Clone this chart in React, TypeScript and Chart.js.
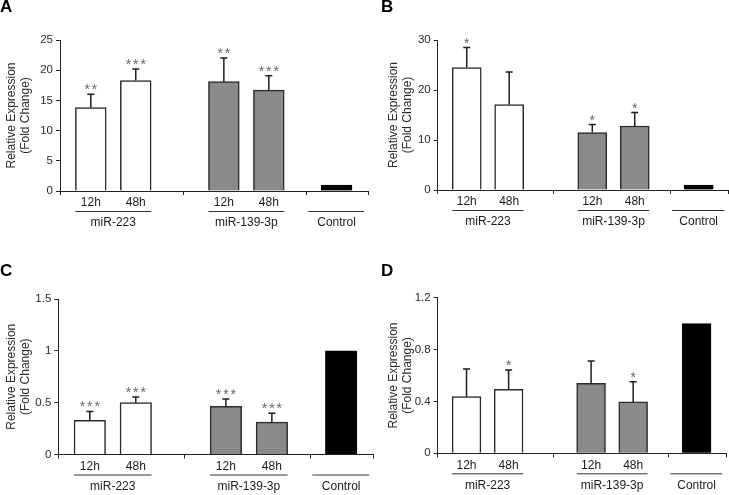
import React, { useEffect, useRef } from "react";
import { Chart, registerables } from "chart.js";

Chart.register(...registerables);

// ---------- data ----------
const timepoints = ["12h", "48h", "12h", "48h", ""];
const groupNames = ["miR-223", "miR-139-3p", "Control"];
const groupSizes = [2, 2, 1];
const yTitle = ["Relative Expression", "(Fold Change)"];

const valuesA = [13.8, 18.3, 18.1, 16.7, 1];
const errorsA = [2.2, 1.9, 3.9, 2.4, 0];
const starsA = ["**", "***", "**", "***", ""];
const yTicksA = [0, 5, 10, 15, 20, 25];

const valuesB = [24.5, 17.1, 11.5, 12.8, 1];
const errorsB = [4.0, 6.5, 1.6, 2.7, 0];
const starsB = ["*", "", "*", "*", ""];
const yTicksB = [0, 10, 20, 30];

const valuesC = [0.33, 0.5, 0.465, 0.313, 1];
const errorsC = [0.085, 0.055, 0.07, 0.085, 0];
const starsC = ["***", "***", "***", "***", ""];
const yTicksC = [0, 0.5, 1, 1.5];

const valuesD = [0.437, 0.493, 0.54, 0.396, 1];
const errorsD = [0.213, 0.149, 0.172, 0.156, 0];
const starsD = ["", "*", "", "*", ""];
const yTicksD = [0, 0.4, 0.8, 1.2];

// ---------- layout / style ----------
const BAR_X = [0.5, 1.23, 2.66, 3.39, 4.49]; // slot positions along the group axis
const GROUP_FILLS = ["#ffffff", "#8a8a8a", "#000000"];
const GROUP_BORDERS = ["#2a2a2a", "#2a2a2a", "#000000"];
const FONT = "Arial, 'Liberation Sans', sans-serif";

type Panel = {
  letter: string;
  values: number[];
  errors: number[];
  stars: string[];
  yTicks: number[];
  left: number;
  top: number;
  w: number;
  h: number;
  area: { l: number; r: number; t: number; b: number };
  titlePad: number;
  letterPos: { x: number; y: number };
};

const panels: Panel[] = [
  {
    letter: "A", values: valuesA, errors: errorsA, stars: starsA, yTicks: yTicksA,
    left: 0, top: 0, w: 374, h: 250, area: { l: 60, r: 368, t: 40, b: 191 }, titlePad: 4,
    letterPos: { x: 0, y: -2 },
  },
  {
    letter: "B", values: valuesB, errors: errorsB, stars: starsB, yTicks: yTicksB,
    left: 365, top: 0, w: 364, h: 250, area: { l: 72.7, r: 363.3, t: 40, b: 190 }, titlePad: 21,
    letterPos: { x: 381, y: -2 },
  },
  {
    letter: "C", values: valuesC, errors: errorsC, stars: starsC, yTicks: yTicksC,
    left: 0, top: 250, w: 378, h: 245, area: { l: 58.3, r: 373.3, t: 49, b: 204.5 }, titlePad: 4,
    letterPos: { x: 0, y: 262 },
  },
  {
    letter: "D", values: valuesD, errors: errorsD, stars: starsD, yTicks: yTicksD,
    left: 365, top: 250, w: 364, h: 245, area: { l: 72.7, r: 361, t: 47.7, b: 203.3 }, titlePad: 21,
    letterPos: { x: 381, y: 262 },
  },
];

function barGroupIndex(): number[] {
  const out: number[] = [];
  groupSizes.forEach((n, g) => {
    for (let i = 0; i < n; i++) out.push(g);
  });
  return out;
}

function PanelChart({ p }: { p: Panel }) {
  const ref = useRef<HTMLCanvasElement | null>(null);

  useEffect(() => {
    if (!ref.current) return;
    const gi = barGroupIndex();
    const total = groupSizes.reduce((a, b) => a + b, 0);
    const bounds: number[] = [0];
    groupSizes.forEach((n) => bounds.push(bounds[bounds.length - 1] + n));
    const unitPx = (p.area.r - p.area.l) / total;

    const annot = {
      id: "annot",
      afterDatasetsDraw(chart: any) {
        const ctx = chart.ctx;
        const y = chart.scales.y;
        const meta = chart.getDatasetMeta(0);
        ctx.save();
        meta.data.forEach((bar: any, i: number) => {
          const v = p.values[i];
          const e = p.errors[i];
          const top = y.getPixelForValue(v);
          const et = y.getPixelForValue(v + e);
          if (e > 0) {
            ctx.strokeStyle = "#1e1e1e";
            ctx.lineWidth = 1.5;
            ctx.beginPath();
            ctx.moveTo(bar.x, top);
            ctx.lineTo(bar.x, et);
            ctx.moveTo(bar.x - 3.5, et);
            ctx.lineTo(bar.x + 3.5, et);
            ctx.stroke();
          }
          const s = p.stars[i];
          if (s) {
            ctx.fillStyle = "#666666";
            ctx.font = `14px ${FONT}`;
            ctx.textAlign = "center";
            ctx.textBaseline = "alphabetic";
            const n = s.length;
            for (let k = 0; k < n; k++) {
              ctx.fillText("*", bar.x + (k - (n - 1) / 2) * 7.4, et);
            }
          }
        });
        ctx.restore();
      },
      afterDraw(chart: any) {
        const ctx = chart.ctx;
        const x = chart.scales.x;
        const meta = chart.getDatasetMeta(0);
        const bottom = chart.chartArea.bottom;
        ctx.save();
        ctx.fillStyle = "#1a1a1a";
        ctx.font = `12px ${FONT}`;
        ctx.textAlign = "center";
        ctx.textBaseline = "middle";
        meta.data.forEach((bar: any, i: number) => {
          if (timepoints[i]) ctx.fillText(timepoints[i], bar.x, bottom + 12);
        });
        let idx = 0;
        groupSizes.forEach((n, g) => {
          const first = meta.data[idx];
          const last = meta.data[idx + n - 1];
          let x0: number, x1: number;
          if (n > 1) {
            x0 = first.x - first.width / 2;
            x1 = last.x + last.width / 2;
          } else {
            x0 = x.getPixelForValue(bounds[g]) + 2;
            x1 = x.getPixelForValue(bounds[g + 1]) - 4;
          }
          ctx.strokeStyle = "#333";
          ctx.lineWidth = 1;
          ctx.beginPath();
          ctx.moveTo(x0, bottom + 20.5);
          ctx.lineTo(x1, bottom + 20.5);
          ctx.stroke();
          const cx = n > 1 ? (x0 + x1) / 2 : first.x;
          ctx.fillText(groupNames[g], cx, bottom + 32);
          idx += n;
        });
        ctx.restore();
      },
    };

    const chart = new Chart(ref.current, {
      type: "bar",
      data: {
        datasets: [
          {
            data: p.values.map((v, i) => ({ x: BAR_X[i], y: v })) as any,
            backgroundColor: gi.map((g) => GROUP_FILLS[g]),
            borderColor: gi.map((g) => GROUP_BORDERS[g]),
            borderWidth: 1.5,
            barThickness: unitPx * 0.5,
          },
        ],
      },
      options: {
        responsive: false,
        animation: false,
        devicePixelRatio: 1,
        layout: { padding: { left: 0, top: p.area.t, right: p.w - p.area.r, bottom: 0 } },
        plugins: { legend: { display: false }, tooltip: { enabled: false } },
        scales: {
          x: {
            type: "linear",
            min: 0,
            max: total,
            offset: false,
            afterBuildTicks: (s: any) => {
              s.ticks = bounds.map((v) => ({ value: v }));
            },
            afterFit: (s: any) => {
              s.height = p.h - p.area.b;
            },
            ticks: { display: false },
            grid: {
              offset: false,
              drawOnChartArea: false,
              drawTicks: true,
              tickLength: 4,
              color: "#222",
              lineWidth: 1,
            },
            border: { display: true, color: "#222", width: 1 },
          },
          y: {
            type: "linear",
            min: 0,
            max: p.yTicks[p.yTicks.length - 1],
            afterBuildTicks: (s: any) => {
              s.ticks = p.yTicks.map((v) => ({ value: v }));
            },
            afterFit: (s: any) => {
              s.width = p.area.l;
            },
            ticks: {
              callback: (v: any) => String(v),
              font: { family: FONT, size: 11.5 },
              color: "#2a2a2a",
              padding: 3,
            },
            grid: { drawOnChartArea: false, drawTicks: true, tickLength: 4, color: "#222", lineWidth: 1 },
            border: { display: true, color: "#222", width: 1 },
            title: {
              display: true,
              text: yTitle,
              font: { family: FONT, size: 12 },
              color: "#2a2a2a",
              padding: { top: p.titlePad, bottom: 0 },
            },
          },
        },
      } as any,
      plugins: [annot],
    });
    return () => chart.destroy();
  }, [p]);

  return (
    <div style={{ position: "absolute", left: p.left, top: p.top, width: p.w, height: p.h }}>
      <canvas ref={ref} width={p.w} height={p.h} style={{ width: p.w, height: p.h, display: "block" }} />
    </div>
  );
}

export default function App() {
  return (
    <div
      style={{
        position: "fixed",
        left: 0,
        top: 0,
        width: 729,
        height: 495,
        overflow: "hidden",
        background: "#ffffff",
      }}
    >
      {panels.map((p) => (
        <PanelChart key={p.letter} p={p} />
      ))}
      {panels.map((p) => (
        <div
          key={"L" + p.letter}
          style={{
            position: "absolute",
            left: p.letterPos.x,
            top: p.letterPos.y,
            font: `bold 17px ${FONT}`,
            lineHeight: "17px",
            color: "#000",
          }}
        >
          {p.letter}
        </div>
      ))}
    </div>
  );
}
